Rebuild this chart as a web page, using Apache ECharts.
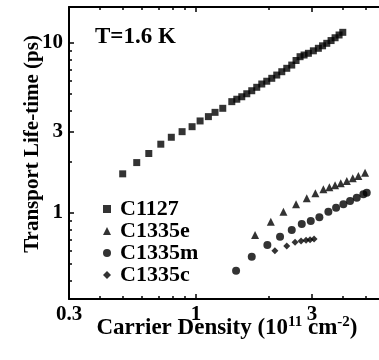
<!DOCTYPE html>
<html>
<head>
<meta charset="utf-8">
<style>
  html, body { margin: 0; padding: 0; background: #fff; }
  #chart { width: 379px; height: 360px; }
</style>
<script src="https://cdn.jsdelivr.net/npm/echarts@6/dist/echarts.min.js"></script>
</head>
<body>
<div id="chart"></div>
<script>
// carrier density (1e11 cm^-2) / transport life-time (ps)
const c1127X = [0.499, 0.570, 0.639, 0.716, 0.791, 0.876, 0.963, 1.039, 1.124, 1.197, 1.288,
  1.403, 1.471, 1.542, 1.617, 1.695, 1.777, 1.864, 1.954, 2.049, 2.148, 2.253, 2.362, 2.476,
  2.579, 2.679, 2.783, 2.899, 3.039, 3.186, 3.316, 3.451, 3.594, 3.733, 3.877, 4.016]
const c1127Y = [1.70, 1.98, 2.24, 2.54, 2.79, 3.01, 3.22, 3.48, 3.69, 3.91, 4.13,
  4.52, 4.67, 4.83, 5.03, 5.24, 5.49, 5.74, 5.96, 6.20, 6.48, 6.78, 7.10, 7.42,
  7.89, 8.31, 8.50, 8.70, 9.00, 9.31, 9.63, 9.96, 10.34, 10.74, 11.15, 11.56]

const c1335eX = [1.749, 2.03, 2.288, 2.579, 2.855, 3.097, 3.342, 3.537, 3.733, 3.940, 4.171, 4.414, 4.655, 4.961]
const c1335eY = [0.742, 0.889, 1.018, 1.125, 1.220, 1.306, 1.378, 1.416, 1.455, 1.495, 1.543, 1.600, 1.650, 1.726]

const c1335mX = [1.461, 1.695, 1.965, 2.216, 2.476, 2.723, 2.965, 3.217, 3.503, 3.769, 4.039, 4.302, 4.584, 4.881, 5.04]
const c1335mY = [0.458, 0.553, 0.648, 0.726, 0.794, 0.862, 0.897, 0.943, 1.018, 1.075, 1.125, 1.177, 1.230, 1.288, 1.316]

const c1335cX = [2.11, 2.362, 2.555, 2.704, 2.836, 2.945, 3.059]
const c1335cY = [0.600, 0.640, 0.673, 0.684, 0.691, 0.696, 0.703]

const xTickLabels = [0.3, 1, 3]
const xMajorTicks = [1, 3]
const xMinorTicks = [0.4, 0.5, 0.6, 0.7, 0.8, 0.9, 2, 4, 5]
const yTickLabels = [1, 3, 10]
const yMajorTicks = [1, 3, 10]
const yMinorTicks = [0.4, 0.5, 0.6, 0.7, 0.8, 0.9, 2, 4, 5, 6, 7, 8, 9]

const FONT = 'Liberation Serif'
const X_MIN = 0.3, X_MAX = 5.66
const Y_MIN = 0.312, Y_MAX = 16.29

const pairs = (xs, ys) => xs.map((x, i) => [x, ys[i]])
const fmt = v => String(+Number(v).toPrecision(3))

const labelStyle = { fontFamily: FONT, fontWeight: 'bold', fontSize: 21, color: '#000' }
const lineStyle = { color: '#000', width: 2 }

function xAxisOf (position, ticks, len, withLine, withLabel) {
  const ax = {
    type: 'log', position, min: X_MIN, max: X_MAX,
    axisLine: { show: withLine, onZero: false, lineStyle },
    axisTick: { show: true, inside: true, length: len, customValues: ticks, lineStyle: { color: '#000', width: 1.5 } },
    axisLabel: { show: false },
    splitLine: { show: false }
  }
  if (withLabel) {
    ax.axisLabel = Object.assign({ show: true, customValues: xTickLabels, margin: 5, formatter: fmt }, labelStyle)
    ax.name = 'Carrier Density (10{sup|11} cm{sup|-2})'
    ax.nameLocation = 'middle'
    ax.nameGap = 16
    ax.nameMoveOverlap = false
    ax.nameTextStyle = {
      fontFamily: FONT, fontWeight: 'bold', fontSize: 23, color: '#000', lineHeight: 26, verticalAlign: 'top',
      padding: [0, 0, 0, 6],
      rich: { sup: { fontFamily: FONT, fontWeight: 'bold', fontSize: 15, color: '#000', lineHeight: 15, verticalAlign: 'top' } }
    }
  }
  return ax
}

function yAxisOf (ticks, len, withLine, withLabel) {
  const ax = {
    type: 'log', position: 'left', min: Y_MIN, max: Y_MAX,
    axisLine: { show: withLine, onZero: false, lineStyle },
    axisTick: { show: true, inside: true, length: len, customValues: ticks, lineStyle: { color: '#000', width: 1.5 } },
    axisLabel: { show: false },
    splitLine: { show: false }
  }
  if (withLabel) {
    ax.axisLabel = Object.assign({ show: true, customValues: yTickLabels, margin: 6, formatter: fmt }, labelStyle)
    ax.name = 'Transport Life-time (ps)'
    ax.nameLocation = 'middle'
    ax.nameGap = 26
    ax.nameMoveOverlap = false
    ax.nameTextStyle = { fontFamily: FONT, fontWeight: 'bold', fontSize: 21, color: '#000', padding: [0, 0, 0, 18] }
  }
  return ax
}

const seriesDefs = [
  { name: 'C1127', symbol: 'rect', size: 7, data: pairs(c1127X, c1127Y) },
  { name: 'C1335e', symbol: 'triangle', size: 8, data: pairs(c1335eX, c1335eY) },
  { name: 'C1335m', symbol: 'circle', size: 8, data: pairs(c1335mX, c1335mY) },
  { name: 'C1335c', symbol: 'diamond', size: 7, data: pairs(c1335cX, c1335cY) }
]

const chart = echarts.init(document.getElementById('chart'), null, { renderer: 'canvas' })
chart.setOption({
  animation: false,
  backgroundColor: '#fff',
  grid: { left: 69, top: 7, right: 0, bottom: 61 },
  xAxis: [
    xAxisOf('bottom', xMajorTicks, 5, true, true),
    xAxisOf('bottom', xMinorTicks, 3, false, false),
    xAxisOf('top', xMajorTicks, 5, true, false),
    xAxisOf('top', xMinorTicks, 3, false, false)
  ],
  yAxis: [
    yAxisOf(yMajorTicks, 5, true, true),
    yAxisOf(yMinorTicks, 3, false, false)
  ],
  legend: {
    data: seriesDefs.map(s => s.name),
    orient: 'vertical',
    left: 98,
    top: 193,
    itemWidth: 8,
    itemHeight: 8,
    itemGap: 0,
    textStyle: { fontFamily: FONT, fontWeight: 'bold', fontSize: 22, color: '#000', lineHeight: 22, padding: [0, 0, 0, 4] }
  },
  graphic: [{
    type: 'text',
    left: 95,
    top: 26,
    style: { text: 'T=1.6 K', fontFamily: FONT, fontWeight: 'bold', fontSize: 23, fill: '#000' }
  }],
  series: seriesDefs.map(s => ({
    name: s.name,
    type: 'scatter',
    xAxisIndex: 0,
    yAxisIndex: 0,
    symbol: s.symbol,
    symbolSize: s.size,
    itemStyle: { color: '#000' },
    data: s.data
  }))
})
</script>
</body>
</html>
